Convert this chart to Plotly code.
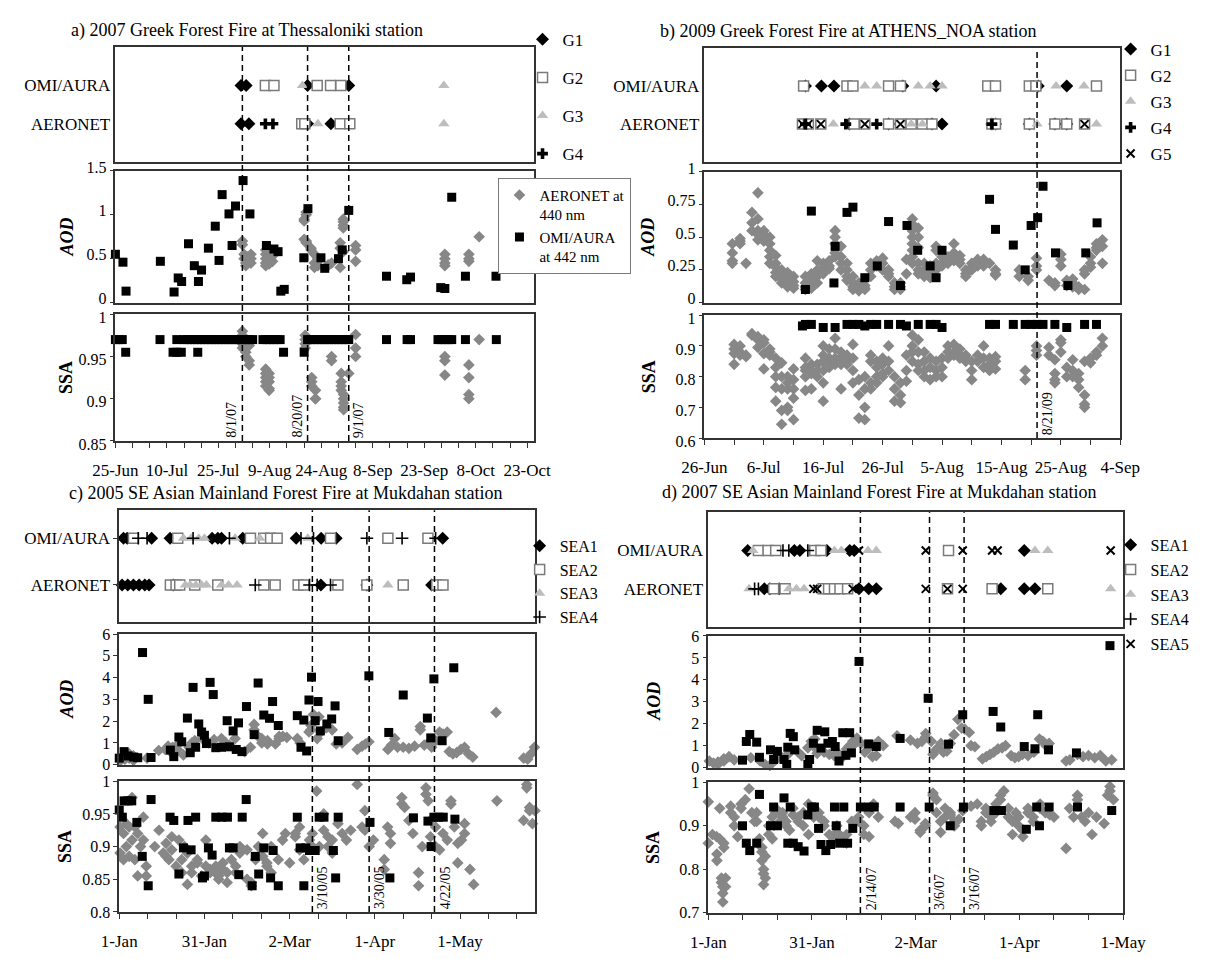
import pandas as pd
import plotly.graph_objects as go

W, H = 1226, 959
SERIF = "Liberation Serif"
ROW_LABELS = ["OMI/AURA", "AERONET"]

# ===================== DATA =====================
# ---- Panel a: 2007 Greek Forest Fire, Thessaloniki (day offsets after 25-Jun-2007)
A_TITLE = "a) 2007 Greek Forest Fire at Thessaloniki station"
A_START, A_END = "2007-06-25", "2007-10-25"
A_XTICKS = ["2007-06-25", "2007-07-10", "2007-07-25", "2007-08-09", "2007-08-24",
            "2007-09-08", "2007-09-23", "2007-10-08", "2007-10-23"]
A_XLABELS = ["25-Jun", "10-Jul", "25-Jul", "9-Aug", "24-Aug", "8-Sep", "23-Sep", "8-Oct", "23-Oct"]
A_EVENTS = ["2007-08-01", "2007-08-20", "2007-09-01"]
A_EVENT_LABELS = ["8/1/07", "8/20/07", "9/1/07"]
A_GROUPS = ["G1", "G2", "G3", "G4"]
A_OMI_GROUP_DAYS = [[36.6, 38.1, 56, 68], [43.7, 46.2, 58.8, 62.7, 65.7], [54.5, 95.7], []]
A_AER_GROUP_DAYS = [[36.6, 38.9, 56, 62.8], [54.3, 55.2, 65.5, 68.3], [59, 95.7], [43.7, 45.9]]
A_AOD_TICKS = [0, 0.5, 1, 1.5]
A_SSA_TICKS = [0.85, 0.9, 0.95, 1]
A_OMI_AOD = [(0, 0.55), (2.2, 0.46), (3.1, 0.13), (13.1, 0.47), (17.1, 0.12), (18.3, 0.28), (19.3, 0.24),
             (21.3, 0.67), (23, 0.42), (24.2, 0.24), (25.1, 0.37), (27.1, 0.62), (29.1, 0.87), (30.2, 0.48),
             (31.1, 1.23), (33.1, 1.01), (34, 0.65), (35, 1.10), (37.2, 1.39), (39.2, 1.01), (44, 0.65),
             (46.2, 0.61), (47.4, 0.58), (48.2, 0.13), (49.2, 0.15), (54.9, 0.51), (56.1, 1.07), (59.9, 0.51),
             (61, 0.39), (65, 0.50), (66.1, 0.60), (68, 1.05), (79, 0.30), (84.9, 0.26), (86, 0.29),
             (94.8, 0.17), (96, 0.16), (98, 1.20), (102, 0.30), (110.9, 0.30)]
A_AER_AOD = [(37, [0.70, 0.66]), (37.5, [0.55, 0.50]), (38, [0.45, 0.42]), (38.6, [0.48, 0.52]),
             (39.5, [0.55, 0.50, 0.45]), (43.8, [0.45, 0.50, 0.55, 0.60, 0.42]),
             (44.8, [0.48, 0.52, 0.58, 0.62, 0.44]), (45.8, [0.47, 0.53]), (55, [0.93, 0.95, 0.72]),
             (55.6, [1.0, 1.03, 0.70, 0.68]), (57, [0.62, 0.60]), (58, [0.55, 0.45, 0.40]),
             (59, [0.50, 0.47, 0.42]), (62, [0.43, 0.42]), (63, [0.45]), (65.5, [0.40, 0.62, 0.68]),
             (66.4, [0.92, 0.95, 0.88, 0.85, 0.58]), (70, [0.65, 0.60, 0.47]), (96, [0.50, 0.55, 0.45, 0.42]),
             (103, [0.55, 0.50, 0.47]), (106, [0.75])]
A_OMI_SSA = [(0, 0.97), (1, 0.97), (2, 0.97), (3, 0.955), (13, 0.97), (16.8, 0.955), (17.9, 0.97),
             (17.9, 0.955), (19.2, 0.955), (20, 0.97), (21, 0.97), (22, 0.97), (23, 0.97), (24, 0.97),
             (24, 0.955), (25, 0.97), (26, 0.97), (27, 0.97), (28, 0.97), (29, 0.97), (30, 0.97), (31, 0.97),
             (32, 0.97), (33, 0.97), (34, 0.97), (35, 0.97), (36, 0.97), (37, 0.97), (38, 0.97), (39, 0.97),
             (40, 0.97), (43, 0.97), (44, 0.97), (45, 0.97), (46, 0.97), (47, 0.97), (48, 0.97), (49, 0.955),
             (55, 0.955), (56, 0.97), (57, 0.97), (58, 0.97), (59, 0.97), (60, 0.97), (61, 0.97), (62, 0.97),
             (63, 0.97), (64, 0.97), (65, 0.97), (66, 0.97), (67, 0.97), (68, 0.97), (79, 0.97), (85, 0.97),
             (86, 0.97), (94, 0.97), (95, 0.97), (96, 0.97), (97, 0.97), (98, 0.97), (102, 0.97), (111, 0.97)]
A_AER_SSA = [(37, [0.98, 0.975, 0.97, 0.965, 0.96]), (38, [0.96, 0.955, 0.95]), (39, [0.945, 0.94, 0.963]),
             (43.8, [0.935, 0.93, 0.925, 0.92, 0.915]), (44.8, [0.91, 0.93, 0.925, 0.92, 0.912]),
             (55.3, [0.975, 0.97, 0.965, 0.96]), (57.2, [0.925, 0.92, 0.915]), (58.3, [0.91, 0.90, 0.90]),
             (63, [0.95, 0.945]), (65.8, [0.93, 0.92, 0.915, 0.91]), (66.5, [0.905, 0.90, 0.895, 0.89, 0.887]),
             (68, [0.93]), (70, [0.976, 0.96, 0.95]), (96, [0.95, 0.945, 0.928]),
             (103, [0.94, 0.925, 0.905, 0.90]), (106, [0.97])]

# ---- Panel b: 2009 Greek Forest Fire, ATHENS_NOA (day offsets after 26-Jun-2009)
B_TITLE = "b) 2009 Greek Forest Fire at ATHENS_NOA station"
B_START, B_END = "2009-06-26", "2009-09-04"
B_XTICKS = ["2009-06-26", "2009-07-06", "2009-07-16", "2009-07-26", "2009-08-05",
            "2009-08-15", "2009-08-25", "2009-09-04"]
B_XLABELS = ["26-Jun", "6-Jul", "16-Jul", "26-Jul", "5-Aug", "15-Aug", "25-Aug", "4-Sep"]
B_EVENTS = ["2009-08-21"]
B_EVENT_LABELS = ["8/21/09"]
B_GROUPS = ["G1", "G2", "G3", "G4", "G5"]
B_OMI_GROUP_DAYS = [[17, 19.7, 21.8, 33.4, 39, 56.2, 61],
                    [16.7, 24, 25, 31, 33, 47.7, 49, 54.7, 55.8, 66],
                    [27, 29, 36, 38, 40, 59.2, 63.9], [], []]
B_AER_GROUP_DAYS = [[24.4, 31, 38.3, 40, 48.4, 49, 54.7, 59, 61],
                    [16.5, 17.5, 19.6, 25.2, 27, 31, 33, 34.8, 36.7, 38.3, 48.4, 49, 54.7, 59, 61, 64],
                    [21.7, 34.8, 36.7, 56, 66], [17, 23.8, 29, 48.4], [16.5, 17.5, 19.6, 27, 33, 64]]
B_AOD_TICKS = [0, 0.25, 0.5, 0.75, 1]
B_SSA_TICKS = [0.6, 0.7, 0.8, 0.9, 1]
B_OMI_AOD = [(17, 0.10), (18, 0.70), (21.8, 0.15), (22, 0.43), (24, 0.69), (25, 0.73), (27, 0.19),
             (29.1, 0.28), (31, 0.62), (33, 0.13), (34.1, 0.59), (35.9, 0.40), (38, 0.28), (39, 0.19),
             (40, 0.40), (48, 0.79), (49, 0.56), (52, 0.44), (54, 0.25), (55, 0.59), (56.1, 0.65),
             (57, 0.89), (59.1, 0.38), (61.2, 0.13), (64.2, 0.38), (66.1, 0.61)]
B_AER_AOD = [(4.7, [0.45, 0.38, 0.32, 0.30]), (6, [0.47, 0.49, 0.45]), (7, [0.30]), (8, [0.69, 0.61, 0.55]),
             (9, [0.84, 0.64, 0.55, 0.52, 0.48]), (10, [0.55, 0.52, 0.47]), (11, [0.50, 0.45, 0.40, 0.35, 0.30]),
             (12, [0.36, 0.30, 0.27, 0.23, 0.20]), (13, [0.25, 0.22, 0.18, 0.15]),
             (14, [0.23, 0.18, 0.15, 0.13, 0.12]), (15, [0.20, 0.16, 0.13, 0.11]), (17, [0.20, 0.15, 0.12, 0.10]),
             (18, [0.22, 0.17, 0.14, 0.11]), (19, [0.32, 0.25, 0.20, 0.15]), (20, [0.30, 0.27, 0.25, 0.22]),
             (21, [0.32, 0.28, 0.26]), (22, [0.55, 0.50, 0.45, 0.38, 0.35]), (23, [0.43, 0.35, 0.30, 0.25]),
             (24, [0.30, 0.25, 0.20, 0.17]), (25, [0.20, 0.15, 0.12, 0.10]), (26, [0.15, 0.12, 0.10, 0.09]),
             (27, [0.13, 0.11, 0.10]), (28, [0.30, 0.25, 0.20]), (29, [0.32, 0.30, 0.28]),
             (30, [0.34, 0.30, 0.25]), (31, [0.25, 0.22, 0.20]), (32, [0.15, 0.12, 0.10]),
             (33, [0.15, 0.12, 0.10]), (34, [0.33, 0.22]), (35, [0.64, 0.60, 0.55, 0.50, 0.45, 0.40, 0.35, 0.30]),
             (36, [0.57, 0.50, 0.42, 0.30, 0.25, 0.22]), (37, [0.30, 0.25, 0.22, 0.20]), (38, [0.28, 0.22, 0.19]),
             (39, [0.43, 0.40, 0.30, 0.25]), (40, [0.35, 0.30, 0.28]), (41, [0.35, 0.33, 0.30]),
             (42, [0.45, 0.38, 0.32]), (43, [0.36, 0.33, 0.30]), (44, [0.25, 0.22, 0.20]),
             (45, [0.30, 0.27, 0.25]), (46, [0.33, 0.30, 0.28]), (47, [0.33, 0.30, 0.28]), (48, [0.30]),
             (49, [0.25, 0.22, 0.21]), (53, [0.25, 0.20]), (54.5, [0.20, 0.17]), (55.9, [0.34, 0.28, 0.25]),
             (58, [0.17]), (59, [0.15, 0.13]), (60, [0.37, 0.33, 0.28]), (61, [0.17, 0.13]),
             (62, [0.18, 0.15, 0.12]), (63, [0.12, 0.10]), (64, [0.25, 0.22, 0.10]), (65, [0.35, 0.30, 0.27]),
             (66, [0.45, 0.42, 0.40]), (67, [0.48, 0.43, 0.30])]
B_OMI_SSA = [(16.5, 0.965), (17, 0.97), (18, 0.97), (20, 0.96), (22, 0.96), (24, 0.97), (25, 0.97), (26, 0.97),
             (27, 0.965), (28, 0.97), (29, 0.97), (31, 0.97), (33, 0.97), (34, 0.965), (36, 0.97), (38, 0.97),
             (39, 0.97), (40, 0.96), (48, 0.97), (49, 0.97), (52, 0.97), (54, 0.97), (55, 0.97), (56, 0.97),
             (57, 0.97), (59, 0.97), (61, 0.96), (64, 0.97), (66, 0.97)]
B_AER_SSA = [(5, [0.905, 0.89, 0.875, 0.84]), (6, [0.90, 0.88, 0.87]), (7, [0.87, 0.865]), (8, [0.94, 0.935]),
             (9, [0.93, 0.92, 0.895]), (10, [0.92, 0.91, 0.875, 0.825]), (11, [0.89, 0.88, 0.87]),
             (12, [0.86, 0.83, 0.80, 0.765, 0.72]), (13, [0.845, 0.80, 0.76, 0.69, 0.645]),
             (14, [0.80, 0.78, 0.76, 0.70, 0.69]), (15, [0.825, 0.79, 0.76, 0.73, 0.66]),
             (17, [0.86, 0.83, 0.82, 0.80, 0.755]), (18, [0.84, 0.82, 0.81, 0.76]), (19, [0.84, 0.82, 0.80]),
             (20, [0.90, 0.87, 0.85, 0.82, 0.78, 0.72]), (21, [0.89, 0.86, 0.84, 0.83]),
             (22, [0.925, 0.89, 0.86, 0.84]), (23, [0.88, 0.86, 0.84, 0.76]), (24, [0.87, 0.85, 0.84]),
             (25, [0.905, 0.86, 0.82, 0.78]), (26, [0.79, 0.74, 0.665]), (27, [0.80, 0.76, 0.70, 0.66]),
             (28, [0.87, 0.85, 0.78, 0.76]), (29, [0.85, 0.83, 0.80, 0.78]), (30, [0.86, 0.84, 0.81, 0.80]),
             (31, [0.90, 0.85, 0.82]), (32, [0.80, 0.76, 0.72]), (33, [0.78, 0.74, 0.715]),
             (34, [0.87, 0.82, 0.785]), (35, [0.935, 0.90, 0.88, 0.85]), (36, [0.92, 0.88, 0.84, 0.82]),
             (37, [0.88, 0.85, 0.82, 0.80]), (38, [0.86, 0.83, 0.79]), (39, [0.85, 0.82, 0.80]),
             (40, [0.86, 0.83, 0.80]), (41, [0.90, 0.88, 0.86]), (42, [0.905, 0.88, 0.87]),
             (43, [0.89, 0.87, 0.86]), (44, [0.87, 0.86, 0.85]), (45, [0.85, 0.82, 0.79]), (46, [0.87, 0.85]),
             (47, [0.90, 0.86, 0.83]), (48, [0.86, 0.84, 0.82]), (49, [0.865, 0.85, 0.825]), (54, [0.82, 0.79]),
             (55.9, [0.90, 0.885, 0.87]), (58, [0.895, 0.87]), (59, [0.855, 0.81, 0.79, 0.78]),
             (60, [0.92, 0.91, 0.88]), (61, [0.83, 0.80]), (62, [0.855, 0.82, 0.80]), (63, [0.81, 0.79, 0.765]),
             (64, [0.85, 0.74, 0.71, 0.70]), (65, [0.86, 0.845]), (66, [0.88, 0.87]), (67, [0.925, 0.90])]

# ---- Panel c: 2005 SE Asian Mainland Forest Fire, Mukdahan (day offsets after 1-Jan-2005)
C_TITLE = "c) 2005 SE Asian Mainland Forest Fire at Mukdahan station"
C_START, C_END = "2005-01-01", "2005-05-27 10:00"
C_XTICKS = ["2005-01-01", "2005-01-31", "2005-03-02", "2005-04-01", "2005-05-01"]
C_XLABELS = ["1-Jan", "31-Jan", "2-Mar", "1-Apr", "1-May"]
C_EVENTS = ["2005-03-10", "2005-03-30", "2005-04-22"]
C_EVENT_LABELS = ["3/10/05", "3/30/05", "4/22/05"]
C_GROUPS = ["SEA1", "SEA2", "SEA3", "SEA4"]
C_OMI_GROUP_DAYS = [[1.5, 2.8, 11.4, 17.9, 32.7, 34.7, 36, 43.5, 62.3, 71.1, 76.4, 113.9],
                    [5, 20.6, 46.2, 50.9, 53.3, 55.6, 74.4, 94.6, 108.7],
                    [22.6, 25.3, 28, 30, 40.8, 49.5, 66.4],
                    [6.7, 9.8, 26, 38.8, 64, 68.4, 87.2, 99.6, 111.4]]
C_AER_GROUP_DAYS = [[1, 3, 5, 7, 9, 10.5, 19, 71, 87.2, 110],
                    [18, 20, 21.3, 26.6, 34.7, 50.9, 54.9, 63, 65, 77, 87.2, 100, 111.8, 114],
                    [23.3, 25, 27, 29, 30.7, 36, 38.5, 41.5, 94.6],
                    [47.9, 67, 69.7, 74.4]]
C_AOD_TICKS = [0, 1, 2, 3, 4, 5, 6]
C_SSA_TICKS = [0.8, 0.85, 0.9, 0.95, 1]
C_OMI_AOD = [(0, 0.30), (1.7, 0.6), (3.1, 0.4), (5.1, 0.35), (6.5, 0.32), (8.2, 5.15), (10.2, 3.0), (11.2, 0.33),
             (18, 0.67), (19.2, 0.37), (21, 1.27), (22, 1.05), (24, 2.14), (25, 0.55), (26, 3.55), (26.9, 0.8),
             (28, 1.87), (29, 1.5), (30, 1.35), (30.7, 0.97), (32, 3.78), (33.1, 3.22), (34, 0.78), (36, 0.8),
             (38, 2.02), (38.8, 0.82), (40.1, 1.55), (41.2, 0.7), (42, 1.92), (43.2, 0.6), (44.8, 2.67),
             (47.5, 1.38), (48.9, 3.75), (50.9, 2.28), (52.9, 2.13), (54, 2.9), (56, 1.8), (62.7, 2.25),
             (64, 0.8), (65, 2.05), (66, 0.63), (66.8, 2.97), (67.7, 4.02), (69, 2.02), (70, 2.9), (70.8, 1.55),
             (73.1, 1.87), (74.8, 2.1), (76, 2.7), (77.1, 1.1), (87.9, 4.08), (94.9, 1.48), (100, 3.2),
             (108.5, 2.14), (109.7, 1.23), (110.8, 3.94), (113.7, 1.1), (117.8, 4.45)]
C_AER_AOD = [(0.5, [0.2, 0.3]), (2, [0.45, 0.25]), (3.5, [0.5, 0.3]), (5, [0.4, 0.2]), (9.8, [0.3]), (13.9, [0.65]),
             (16.2, [0.7]), (17.2, [0.85]), (18.8, [0.5, 0.8]), (20.5, [0.9, 0.7]), (22.6, [0.45]), (24.6, [0.8]),
             (25.6, [1.0]), (26.6, [1.1]), (29.3, [1.2]), (31.5, [1.0]), (33.4, [1.15]), (36, [1.2]),
             (37.5, [1.0]), (38.8, [0.9]), (40.8, [1.2]), (44.1, [0.6]), (46.2, [0.8]), (47.5, [1.85, 1.6]),
             (48.9, [1.3]), (50.2, [1.2, 1.0]), (52.2, [0.95, 1.1]), (55, [0.95]), (56.3, [1.3, 1.2]),
             (57.6, [1.3]), (59, [1.25]), (62.7, [1.2]), (63.7, [1.0]), (66.8, [1.5]), (67.5, [1.6, 1.8]),
             (68.4, [2.3]), (69.7, [1.2]), (70.3, [2.2]), (71, [1.5]), (73, [1.7]), (75, [1.6]), (76.4, [0.95]),
             (78.5, [1.0]), (80.5, [1.25]), (83.8, [0.7]), (85.5, [0.85]), (86.7, [0.95]), (87.9, [1.05]),
             (94.6, [0.7]), (95.9, [0.9]), (97, [1.2]), (98, [0.8]), (100, [0.8]), (102, [0.75]), (104, [0.85]),
             (106, [1.75, 1.6]), (107.4, [0.9]), (108.8, [1.0]), (110, [0.8]), (111.4, [1.1]), (112.8, [1.5]),
             (114, [1.4]), (115.5, [1.5]), (116.2, [0.6]), (117.5, [0.5]), (118.8, [0.55]), (120.3, [0.7]),
             (121.6, [0.8]), (123, [0.5]), (124.5, [0.35]), (132.7, [2.4]), (142.4, [0.3]), (143.8, [0.25]),
             (145, [0.5]), (146.2, [0.8])]
C_OMI_SSA = [(0, 0.956), (1.1, 0.945), (1.7, 0.97), (3.1, 0.97), (4.4, 0.97), (6.2, 0.937), (8.1, 0.885),
             (10.2, 0.84), (11.2, 0.972), (17.9, 0.945), (19.2, 0.94), (21, 0.858), (22.6, 0.898), (24.2, 0.94),
             (25.3, 0.895), (26.9, 0.945), (29.3, 0.852), (30, 0.855), (31.4, 0.898), (32.7, 0.887), (34, 0.945),
             (36.1, 0.945), (38.1, 0.945), (38.8, 0.898), (40.1, 0.898), (42.1, 0.857), (43.3, 0.945),
             (44.7, 0.972), (46.8, 0.84), (47.9, 0.885), (49.1, 0.858), (50.9, 0.898), (53.3, 0.852),
             (54.2, 0.894), (56, 0.84), (62.7, 0.945), (63.7, 0.898), (65, 0.84), (65.7, 0.898), (67, 0.894),
             (69, 0.894), (70.4, 0.945), (72.1, 0.945), (75.4, 0.894), (76.2, 0.852), (77.1, 0.945),
             (88.3, 0.937), (95.3, 0.852), (103.6, 0.944), (108.7, 0.939), (109.8, 0.9), (110.8, 0.945),
             (112.5, 0.945), (114.1, 0.945), (118.2, 0.942)]
C_AER_SSA = [(0.3, [0.93, 0.89]), (1.5, [0.92, 0.88]), (2.5, [0.90, 0.935]), (3.5, [0.93, 0.885]),
             (4.5, [0.975, 0.91]), (5.5, [0.93, 0.88]), (6.5, [0.855, 0.92]), (7.5, [0.90]), (8.5, [0.945, 0.91]),
             (9.5, [0.87, 0.855]), (12.5, [0.90]), (14, [0.925]), (15.5, [0.89]), (16.5, [0.905, 0.885]),
             (17.5, [0.88]), (18.5, [0.915, 0.895]), (20, [0.87]), (21, [0.91]), (22, [0.86, 0.88]), (23, [0.90]),
             (24, [0.842, 0.89]), (25.5, [0.87, 0.86]), (27.5, [0.875, 0.88]), (29, [0.855]), (30.5, [0.91, 0.87]),
             (32, [0.865, 0.86]), (34, [0.87, 0.86]), (35, [0.855, 0.85]), (36.5, [0.865, 0.875]),
             (38, [0.86, 0.845]), (39.5, [0.88]), (41, [0.87, 0.86]), (42.5, [0.89, 0.90]), (45, [0.895, 0.85]),
             (46.5, [0.845, 0.84]), (48, [0.88]), (49, [0.90]), (50.5, [0.92, 0.885]), (52, [0.87, 0.875]),
             (53.5, [0.9, 0.86]), (56, [0.88]), (57.5, [0.91]), (58.5, [0.92]), (60, [0.875]), (62, [0.92, 0.915]),
             (63.5, [0.93, 0.895]), (65, [0.88]), (67, [0.91]), (68, [0.92, 0.90]), (69.5, [0.985]), (70.5, [0.90]),
             (72, [0.95, 0.925]), (73.5, [0.90, 0.915]), (75, [0.91, 0.89]), (77, [0.935]), (78.5, [0.92]),
             (80, [0.91]), (81.5, [0.925]), (83.8, [0.995]), (85.5, [0.93]), (86.5, [0.955, 0.925]), (88, [0.90]),
             (89.5, [0.91]), (93.3, [0.865, 0.88]), (94.5, [0.93]), (95.5, [0.92, 0.905]), (99.5, [0.975, 0.965]),
             (100.5, [0.96]), (102, [0.94]), (103.4, [0.92]), (105.4, [0.86, 0.84]), (106.7, [0.90]),
             (108, [0.99, 0.98]), (108.8, [0.97]), (109.6, [0.94, 0.915]), (111.4, [0.93, 0.90]), (112.8, [0.895]),
             (114, [0.92]), (115.5, [0.91]), (116.8, [0.97, 0.965]), (118, [0.93]), (119.2, [0.905, 0.875]),
             (120.5, [0.91]), (121.6, [0.935, 0.92]), (123.5, [0.865]), (124.8, [0.842]), (133, [0.97]),
             (142.4, [0.94]), (143.5, [0.995, 0.99]), (144.5, [0.96, 0.955]), (145.5, [0.935]), (146.4, [0.955])]

# ---- Panel d: 2007 SE Asian Mainland Forest Fire, Mukdahan (day offsets after 1-Jan-2007)
D_TITLE = "d) 2007 SE Asian Mainland Forest Fire at Mukdahan station"
D_START, D_END = "2007-01-01", "2007-05-01"
D_XTICKS = ["2007-01-01", "2007-01-31", "2007-03-02", "2007-04-01", "2007-05-01"]
D_XLABELS = ["1-Jan", "31-Jan", "2-Mar", "1-Apr", "1-May"]
D_EVENTS = ["2007-02-14", "2007-03-06", "2007-03-16"]
D_EVENT_LABELS = ["2/14/07", "3/6/07", "3/16/07"]
D_GROUPS = ["SEA1", "SEA2", "SEA3", "SEA4", "SEA5"]
D_OMI_GROUP_DAYS = [[11.4, 24.9, 26.5, 34.3, 40.9, 42.2, 91.4],
                    [14.5, 17.3, 19.5, 30.8, 32.6, 69.5],
                    [12.9, 36.5, 38.5, 46.2, 48.6, 94.5, 98.2],
                    [21.6, 23.3, 28.8],
                    [43.6, 62.9, 73.6, 82.1, 83.7, 116.4]]
D_AER_GROUP_DAYS = [[16.2, 17.8, 20.5, 43.6, 46.4, 48.6, 84.6, 91.4, 94.5],
                    [18.9, 22.2, 33.2, 34.8, 36.5, 38.1, 40.3, 69.2, 82.1, 98.2],
                    [11.8, 23.3, 25.5, 27.7, 116.4],
                    [13.4, 14.5],
                    [30.4, 31.5, 41.8, 62.9, 69.2, 73.6]]
D_AOD_TICKS = [0, 1, 2, 3, 4, 5, 6]
D_SSA_TICKS = [0.7, 0.8, 0.9, 1]
D_OMI_AOD = [(9.9, 0.34), (11, 1.19), (12, 1.51), (14, 1.16), (14.8, 0.47), (18, 0.81), (18.9, 0.37), (20, 0.74),
             (21.9, 0.37), (22.7, 0.15), (23, 0.93), (23.7, 1.56), (24.6, 1.41), (25, 0.81), (28.8, 0.15),
             (29.3, 0.37), (30.4, 1.11), (31.5, 1.70), (32.6, 0.89), (33.7, 1.63), (34.6, 1.11), (35.9, 1.19),
             (36.7, 0.96), (37.8, 0.30), (38.9, 1.59), (39.8, 0.56), (40.9, 1.59), (41.4, 0.67), (43.6, 4.84),
             (46.4, 1.08), (48.6, 0.96), (55.5, 1.33), (63.6, 3.16), (69.5, 1.07), (73.6, 2.41), (82.4, 2.56),
             (84.6, 1.85), (91.4, 0.96), (94.5, 0.86), (95.3, 2.41), (98.4, 0.81), (106.5, 0.67), (116.2, 5.56)]
D_AER_AOD = [(0.3, [0.3]), (1.5, [0.2]), (2.8, [0.15, 0.25]), (4.5, [0.4, 0.3]), (6, [0.5]), (7.5, [0.35]),
             (12.3, [0.45]), (15, [0.3]), (16.4, [0.15]), (17.8, [0.1]), (19.5, [0.35]), (21.5, [0.45]),
             (23, [0.6]), (26, [0.7]), (27, [0.55]), (28.8, [0.9]), (29.8, [1.2]), (30.8, [1.3]),
             (31.5, [0.8, 0.65]), (33.5, [0.7]), (35, [0.6]), (36.4, [0.55]), (37.6, [0.65]), (39, [0.5]),
             (40, [0.85]), (40.9, [1.0]), (41.8, [1.0, 1.2]), (43, [1.35]), (44.2, [1.1]), (45.3, [0.7]),
             (46.5, [0.9]), (47.5, [0.5]), (48.6, [0.55]), (49.2, [1.2]), (50.6, [1.0]), (54.6, [1.45]),
             (58.5, [1.25]), (60.5, [1.1]), (61.8, [1.2]), (62.9, [1.55, 1.4]), (64.5, [1.2]), (65, [0.6]),
             (65.8, [0.8]), (66.5, [0.9]), (67.3, [1.1]), (68, [0.7]), (69, [0.75]), (70, [1.1]), (71.1, [1.5]),
             (72.2, [2.2]), (73.3, [1.8]), (74.2, [1.75]), (75.5, [1.6]), (76, [1.0]), (77.1, [0.95]),
             (79.3, [0.4]), (80.4, [0.5]), (81.5, [0.6]), (82.6, [0.7]), (83.8, [0.85]), (85, [0.9]), (86, [1.0]),
             (87.6, [0.55]), (88.7, [0.45]), (89.8, [0.5]), (90.9, [0.6]), (92.5, [0.55]), (94.2, [0.7]),
             (95.8, [1.3]), (96.8, [1.2]), (97.7, [1.0]), (98.6, [1.1]), (103.5, [0.3]), (104.6, [0.35]),
             (106.8, [0.6]), (108.4, [0.5]), (110, [0.55]), (111.8, [0.45]), (113.4, [0.55]), (115, [0.3]),
             (116.7, [0.35])]
D_OMI_SSA = [(9.9, 0.90), (11, 0.86), (12, 0.843), (14, 0.86), (14.8, 0.972), (18, 0.90), (18.9, 0.943),
             (20, 0.90), (21.9, 0.964), (23, 0.86), (23.7, 0.943), (24.6, 0.86), (26, 0.852), (27.7, 0.842),
             (28.8, 0.925), (29.9, 0.943), (30.7, 0.943), (31.9, 0.894), (32.6, 0.857), (34, 0.843), (35.4, 0.857),
             (36.5, 0.943), (37, 0.90), (38, 0.86), (39.2, 0.943), (40.3, 0.86), (41.8, 0.894), (44, 0.943),
             (46.4, 0.943), (48, 0.943), (55.5, 0.943), (63.9, 0.943), (70, 0.90), (73.8, 0.943), (82.6, 0.935),
             (84.8, 0.935), (92, 0.892), (95, 0.943), (95.8, 0.90), (98.6, 0.943), (106.8, 0.943), (116.7, 0.935)]
D_AER_SSA = [(0, [0.955, 0.86]), (1.2, [0.88]), (2.4, [0.875]), (2.5, [0.835, 0.82]), (3.3, [0.87, 0.94]),
             (4.5, [0.85, 0.86]), (3.8, [0.78, 0.77]), (4.2, [0.76, 0.745, 0.725]), (5, [0.76, 0.78]),
             (6.5, [0.93, 0.945]), (7.5, [0.92, 0.90]), (8.5, [0.875]), (9.5, [0.95, 0.94]), (10.7, [0.96]),
             (11.8, [0.985]), (12.6, [0.93]), (13.4, [0.91]), (14, [0.93, 0.91]), (14.8, [0.87]),
             (15.5, [0.84, 0.85, 0.82]), (16, [0.80, 0.79, 0.765]), (16.5, [0.78, 0.83]), (17.5, [0.90, 0.88]),
             (18.5, [0.87, 0.92]), (19.5, [0.94, 0.93]), (20.8, [0.91]), (21.5, [0.93, 0.92]), (22.5, [0.91, 0.90]),
             (23.5, [0.89]), (24.5, [0.925, 0.94]), (26, [0.92, 0.91]), (27.5, [0.93, 0.90]), (29, [0.88, 0.95]),
             (30.5, [0.94, 0.92]), (32, [0.93, 0.92]), (33.5, [0.91, 0.90]), (35, [0.88]), (36.2, [0.87]),
             (37.2, [0.90, 0.885]), (38.5, [0.87, 0.875]), (40, [0.86, 0.88]), (41.5, [0.91]), (43.5, [0.92, 0.91]),
             (45, [0.90, 0.88]), (46.5, [0.875, 0.93]), (47.8, [0.945, 0.95]), (49.2, [0.92]), (54, [0.91]),
             (55, [0.905]), (58.5, [0.92]), (59.8, [0.93, 0.915]), (61.3, [0.89, 0.885]), (62.8, [0.90, 0.905]),
             (65, [0.97, 0.975]), (66, [0.96, 0.93]), (67.2, [0.91, 0.885]), (68.5, [0.92, 0.94]),
             (70, [0.93, 0.925]), (71.2, [0.91, 0.90]), (72.5, [0.915]), (73.6, [0.935]), (76, [0.945]),
             (77.8, [0.95]), (79, [0.9, 0.91]), (80.3, [0.93, 0.94]), (81.8, [0.92, 0.91]), (83.2, [0.93, 0.95]),
             (84.5, [0.96, 0.97]), (85.5, [0.98]), (86.8, [0.94, 0.92]), (88, [0.88, 0.91]), (89, [0.93]),
             (89.8, [0.92, 0.90]), (91, [0.89, 0.875]), (92.5, [0.94, 0.93]), (94, [0.91, 0.92]),
             (96, [0.95, 0.94]), (97.5, [0.93]), (98.8, [0.925]), (100, [0.92]), (103.5, [0.848]), (104.5, [0.94]),
             (105.7, [0.92]), (106.8, [0.97, 0.96]), (108, [0.92]), (109, [0.91]), (110, [0.93]), (111, [0.88]),
             (112.3, [0.92]), (114.5, [0.905]), (115.5, [0.97]), (116.2, [0.98, 0.99]), (117.2, [0.96])]

# ===================== LAYOUT CONFIG (pixels) =====================
PANELS = [
    dict(title=A_TITLE, start=A_START, end=A_END, xticks=A_XTICKS, xlabels=A_XLABELS, minor=5,
         events=A_EVENTS, elabels=A_EVENT_LABELS, eside=[-1, -1, 1], groups=A_GROUPS,
         omi_g=A_OMI_GROUP_DAYS, aer_g=A_AER_GROUP_DAYS, rows=(2, 1),
         omi_aod=A_OMI_AOD, aer_aod=A_AER_AOD, omi_ssa=A_OMI_SSA, aer_ssa=A_AER_SSA,
         aod_ticks=A_AOD_TICKS, ssa_ticks=A_SSA_TICKS, aod_rng=[0, 1.5], ssa_rng=[0.85, 1],
         xpx=(96, 531), ypx=[(36, 154), (163, 298), (310, 440)], tpos=(48, 19),
         aod_lab=(46, 231), ssa_lab=(44, 375), leg="legend", legpos=(541, 28), leggap=13, legfont=17,
         thin=False, shift=True),
    dict(title=B_TITLE, start=B_START, end=B_END, xticks=B_XTICKS, xlabels=B_XLABELS, minor=5,
         events=B_EVENTS, elabels=B_EVENT_LABELS, eside=[1], groups=B_GROUPS,
         omi_g=B_OMI_GROUP_DAYS, aer_g=B_AER_GROUP_DAYS, rows=(2, 1),
         omi_aod=B_OMI_AOD, aer_aod=B_AER_AOD, omi_ssa=B_OMI_SSA, aer_ssa=B_AER_SSA,
         aod_ticks=B_AOD_TICKS, ssa_ticks=B_SSA_TICKS, aod_rng=[0, 1], ssa_rng=[0.6, 1],
         xpx=(708, 1140), ypx=[(37, 154), (164, 298), (311, 437)], tpos=(660, 20),
         aod_lab=(650, 231), ssa_lab=(650, 374), leg="legend3", legpos=(1152, 38), leggap=1, legfont=17,
         thin=False, shift=True),
    dict(title=C_TITLE, start=C_START, end=C_END, xticks=C_XTICKS, xlabels=C_XLABELS, minor=10,
         events=C_EVENTS, elabels=C_EVENT_LABELS, eside=[1, 1, 1], groups=C_GROUPS,
         omi_g=C_OMI_GROUP_DAYS, aer_g=C_AER_GROUP_DAYS, rows=(2.25, 1),
         omi_aod=C_OMI_AOD, aer_aod=C_AER_AOD, omi_ssa=C_OMI_SSA, aer_ssa=C_AER_SSA,
         aod_ticks=C_AOD_TICKS, ssa_ticks=C_SSA_TICKS, aod_rng=[0, 6], ssa_rng=[0.8, 1],
         xpx=(100, 532), ypx=[(511, 626), (638, 772), (789, 923)], tpos=(46, 494),
         aod_lab=(46, 705), ssa_lab=(43, 856), leg="legend4", legpos=(538, 548), leggap=0, legfont=16,
         thin=True, shift=False),
    dict(title=D_TITLE, start=D_START, end=D_END, xticks=D_XTICKS, xlabels=D_XLABELS, minor=10,
         events=D_EVENTS, elabels=D_EVENT_LABELS, eside=[1, 1, 1], groups=D_GROUPS,
         omi_g=D_OMI_GROUP_DAYS, aer_g=D_AER_GROUP_DAYS, rows=(2, 1),
         omi_aod=D_OMI_AOD, aer_aod=D_AER_AOD, omi_ssa=D_OMI_SSA, aer_ssa=D_AER_SSA,
         aod_ticks=D_AOD_TICKS, ssa_ticks=D_SSA_TICKS, aod_rng=[0, 6], ssa_rng=[0.7, 1],
         xpx=(712, 1143), ypx=[(513, 631), (640, 775), (790, 924)], tpos=(662, 493),
         aod_lab=(656, 707), ssa_lab=(654, 857), leg="legend5", legpos=(1152, 547), leggap=1, legfont=16,
         thin=True, shift=False),
]

AX = "#333333"
GRAY = "#878787"


def px_x(p0, p1):
    return [p0 / W, p1 / W]


def px_y(top, bottom):
    return [1 - bottom / H, 1 - top / H]


def py(v):
    return 1 - v / H


def expand(pairs):
    xs, ys = [], []
    for d, vals in pairs:
        if isinstance(vals, (list, tuple)):
            xs += [d] * len(vals)
            ys += list(vals)
        else:
            xs.append(d)
            ys.append(vals)
    return xs, ys


def to_dates(start, days):
    t0 = pd.Timestamp(start)
    return [t0 + pd.Timedelta(days=float(d)) for d in days]


def group_marker(i, thin):
    if i == 0:
        return dict(symbol="diamond", size=10, color="black")
    if i == 1:
        return dict(symbol="square", size=10, color="white", line=dict(color="#7a7a7a", width=1.5))
    if i == 2:
        return dict(symbol="triangle-up", size=10, color="#bdbdbd")
    if i == 3:
        if thin:
            return dict(symbol="cross-thin", size=9, color="black", line=dict(color="black", width=1.6))
        return dict(symbol="cross", size=9, color="black", line=dict(width=0))
    return dict(symbol="x-thin", size=8, color="black", line=dict(color="black", width=2))


def axname(i, c):
    return f"{c}axis" + ("" if i == 1 else str(i))


def axref(i, c):
    return c + ("" if i == 1 else str(i))


fig = go.Figure()
layout = dict(width=W, height=H, margin=dict(l=0, r=0, t=0, b=0), paper_bgcolor="white",
              plot_bgcolor="white", font=dict(family=SERIF, size=16, color="black"), showlegend=True)
shapes, annotations = [], []

for k, P in enumerate(PANELS):
    gi, ai, si = 3 * k + 1, 3 * k + 2, 3 * k + 3
    xdom = px_x(*P["xpx"])
    base_x = dict(type="date", range=[P["start"], P["end"]], domain=xdom, showline=True, linecolor=AX,
                  linewidth=1.5, mirror=True, showgrid=False, zeroline=False)
    layout[axname(si, "x")] = dict(base_x, anchor=axref(si, "y"), tickmode="array", tickvals=P["xticks"],
                                   ticktext=P["xlabels"], ticks="outside", ticklen=5, tickcolor=AX,
                                   tickfont=dict(size=17), ticklabelstandoff=8,
                                   minor=dict(ticks="outside", ticklen=5, tickcolor=AX, tick0=P["start"],
                                              dtick=P["minor"] * 86400000, showgrid=False))
    for idx in (gi, ai):
        layout[axname(idx, "x")] = dict(base_x, anchor=axref(idx, "y"), matches=axref(si, "x"),
                                        showticklabels=False, ticks="")
    base_y = dict(showline=True, linecolor=AX, linewidth=1.5, mirror=True, showgrid=False, zeroline=False)
    layout[axname(gi, "y")] = dict(base_y, domain=px_y(*P["ypx"][0]), anchor=axref(gi, "x"), range=[0, 3],
                                   tickmode="array", tickvals=list(P["rows"]), ticktext=ROW_LABELS,
                                   ticks="outside" if k == 2 else "", ticklen=4,
                                   tickcolor=AX, tickfont=dict(size=17))
    layout[axname(ai, "y")] = dict(base_y, domain=px_y(*P["ypx"][1]), anchor=axref(ai, "x"), range=P["aod_rng"],
                                   tickmode="array", tickvals=P["aod_ticks"],
                                   ticktext=[f"{v:g}" for v in P["aod_ticks"]], ticks="outside", ticklen=4,
                                   tickcolor=AX, tickfont=dict(size=16),
                                   ticklabelshift=-4 if P["shift"] else 0)
    layout[axname(si, "y")] = dict(base_y, domain=px_y(*P["ypx"][2]), anchor=axref(si, "x"), range=P["ssa_rng"],
                                   tickmode="array", tickvals=P["ssa_ticks"],
                                   ticktext=[f"{v:g}" for v in P["ssa_ticks"]], ticks="outside", ticklen=4,
                                   tickcolor=AX, tickfont=dict(size=16),
                                   ticklabelshift=3 if P["shift"] else 0)

    # group strip
    for gidx, gname in enumerate(P["groups"]):
        od, ad = P["omi_g"][gidx], P["aer_g"][gidx]
        fig.add_trace(go.Scatter(
            x=to_dates(P["start"], od + ad), y=[P["rows"][0]] * len(od) + [P["rows"][1]] * len(ad),
            mode="markers", marker=group_marker(gidx, P["thin"]), name=gname,
            legend=P["leg"], legendgroup=f"{k}_{gname}", showlegend=True, cliponaxis=False,
            xaxis=axref(gi, "x"), yaxis=axref(gi, "y")))

    # AOD and SSA
    for idx, aer, omi in ((ai, P["aer_aod"], P["omi_aod"]), (si, P["aer_ssa"], P["omi_ssa"])):
        xd, yv = expand(aer)
        show = (k == 0 and idx == ai)
        fig.add_trace(go.Scatter(
            x=to_dates(P["start"], xd), y=yv, mode="markers",
            marker=dict(symbol="diamond", size=9, color=GRAY), name="AERONET at<br>440 nm",
            legend="legend2", showlegend=show, cliponaxis=False,
            xaxis=axref(idx, "x"), yaxis=axref(idx, "y")))
        xd, yv = expand(omi)
        fig.add_trace(go.Scatter(
            x=to_dates(P["start"], xd), y=yv, mode="markers",
            marker=dict(symbol="square", size=9, color="black"), name="OMI/AURA<br>at 442 nm",
            legend="legend2", showlegend=show, cliponaxis=False,
            xaxis=axref(idx, "x"), yaxis=axref(idx, "y")))

    # event lines and labels
    top = py(P["ypx"][0][0])
    bot = py(P["ypx"][2][1])
    for ev, lab, side in zip(P["events"], P["elabels"], P["eside"]):
        shapes.append(dict(type="line", xref=axref(si, "x"), yref="paper", x0=ev, x1=ev, y0=bot, y1=top,
                           line=dict(color="black", width=1.5, dash="6px,4px"), layer="above"))
        annotations.append(dict(x=ev, xref=axref(si, "x"), y=bot, yref="paper", text=lab, textangle=-90,
                                showarrow=False, xanchor="left" if side > 0 else "right", yanchor="bottom",
                                xshift=1 * side, yshift=1, font=dict(size=14)))

    # titles and axis labels
    annotations.append(dict(x=P["tpos"][0] / W, y=py(P["tpos"][1]), xref="paper", yref="paper",
                            text=P["title"], showarrow=False, xanchor="left", yanchor="middle",
                            font=dict(size=18)))
    annotations.append(dict(x=P["aod_lab"][0] / W, y=py(P["aod_lab"][1]), xref="paper", yref="paper",
                            text="<b><i>AOD</i></b>", textangle=-90, showarrow=False, xanchor="center",
                            yanchor="middle", font=dict(size=18)))
    annotations.append(dict(x=P["ssa_lab"][0] / W, y=py(P["ssa_lab"][1]), xref="paper", yref="paper",
                            text="<b>SSA</b>", textangle=-90, showarrow=False, xanchor="center",
                            yanchor="middle", font=dict(size=18)))

    # group legend
    lx, ly = P["legpos"]
    layout[P["leg"]] = dict(x=(lx - 22) / W, y=py(ly - 18), xanchor="left", yanchor="top",
                            bgcolor="rgba(0,0,0,0)", borderwidth=0, font=dict(size=P["legfont"]),
                            tracegroupgap=P["leggap"], itemwidth=30)

layout["legend2"] = dict(x=494 / W, y=py(170), xanchor="left", yanchor="top", bgcolor="white",
                         bordercolor="#7a7a7a", borderwidth=1, font=dict(size=15), valign="top",
                         itemwidth=30)
layout["shapes"] = shapes
layout["annotations"] = annotations
fig.update_layout(**layout)
fig.write_html("out.html")
